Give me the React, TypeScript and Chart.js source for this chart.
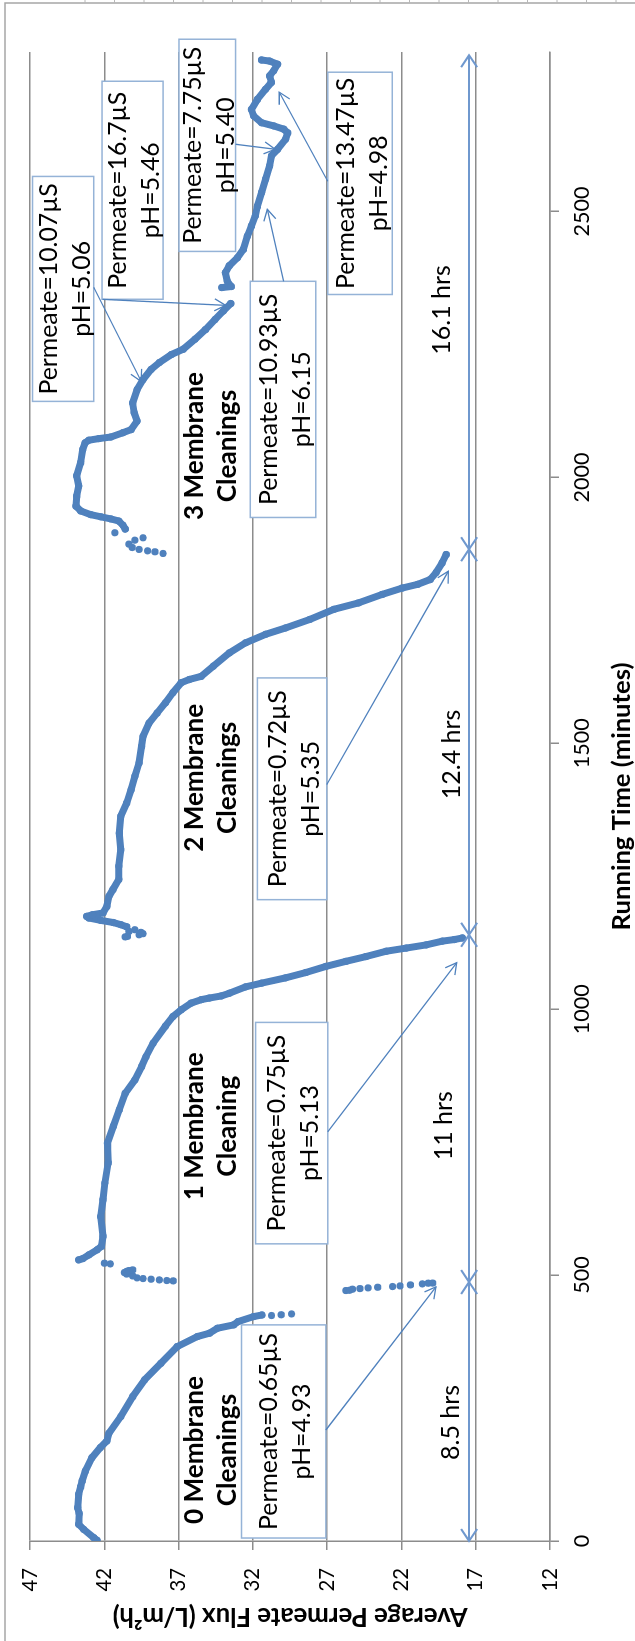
import React, { useEffect, useRef } from 'react';
import { Chart, registerables } from 'chart.js';

Chart.register(...registerables);

// ---------- axis ticks ----------
const timeTicks = [0, 500, 1000, 1500, 2000, 2500];
const fluxTicks = [12, 17, 22, 27, 32, 37, 42, 47];

// ---------- data: [running time (min), average permeate flux (L/m2h)] ----------
const run0 = [
  [1.3, 42.5], [6.2, 42.72], [22, 43.4], [31.4, 43.73], [52, 43.7], [62.7, 43.8], [87.8, 43.73],
  [102, 43.6], [112.9, 43.5], [131.7, 43.28], [156.8, 42.84], [175.6, 42.28], [188, 41.84],
  [202.5, 41.7], [234, 40.9], [271.5, 40.1], [303, 39.3], [334, 38.2], [365.6, 37.1],
  [384.4, 35.75], [390.7, 34.93], [400, 34.4], [406.4, 33.3], [412.6, 33.0], [422, 31.96], [425, 31.4],
];
const run0Tail = [[424, 30.75], [425.5, 30.1], [427, 29.4]];
const drop0 = [
  [471, 25.74], [471.5, 25.5], [473.5, 25.3], [474.7, 24.8], [476, 24.25], [477.2, 23.6],
  [478.5, 22.6], [479.7, 22.1], [481.6, 21.4], [483.5, 20.6], [484.8, 20.2], [485, 19.9],
];
const run1Start = [
  [489.2, 37.37], [489.8, 37.8], [491, 38.3], [492.3, 38.86], [493.5, 39.4], [494.8, 39.8],
  [498.5, 40.1], [502, 40.5], [504.8, 40.65], [507, 40.5], [508.6, 40.35], [509.9, 40.1],
  [521.1, 41.6], [522.4, 42.0],
];
const run1 = [
  [528.7, 43.73], [531, 43.46], [538, 43.05], [547.5, 42.5], [554, 42.2], [573, 42.1], [610, 42.25],
  [642, 42.1], [673, 41.97], [711, 41.75], [748, 41.8], [780, 41.4], [811, 41.0], [842, 40.6],
  [867, 39.95], [892, 39.5], [911, 39.2], [936, 38.73], [968, 37.9], [986, 37.4], [999, 36.83],
  [1011.5, 36.16], [1018, 35.48], [1021, 34.94], [1025, 34.13], [1030, 33.59], [1042, 32.5],
  [1049, 31.42], [1059, 29.8], [1069, 28.44], [1080.5, 27.09], [1090, 25.74], [1099, 24.39],
  [1109, 23.03], [1115, 21.68], [1121, 20.33], [1128, 19.25], [1131, 18.44], [1134, 17.9],
];
const run2Start = [
  [1136, 40.6], [1137, 40.45], [1140, 39.67], [1142, 39.4], [1144.5, 39.54], [1146.4, 40.35], [1149.5, 39.95],
];
const run2 = [
  [1155, 40.5], [1159, 40.9], [1163, 41.4], [1167, 42.24], [1171.5, 43.05], [1174.6, 43.2],
  [1177.7, 42.8], [1181, 42.1], [1193, 41.84], [1212, 41.7], [1225, 41.43], [1244, 41.03],
  [1269, 41.03], [1300, 40.9], [1331, 41.0], [1363, 40.9], [1388, 40.5], [1413, 40.2], [1438, 39.95],
  [1463, 39.67], [1494, 39.5], [1513, 39.4], [1538, 39.0], [1557, 38.45], [1576, 37.9], [1595, 37.4],
  [1614, 36.83], [1620, 36.29], [1626, 35.48], [1645, 34.67], [1670, 33.59], [1689, 32.5],
  [1705, 31.15], [1717, 29.8], [1733, 28.17], [1752, 26.55], [1764, 24.9], [1780, 23.3],
  [1792, 21.95], [1799, 20.9], [1808, 20.07], [1821, 19.67], [1839.5, 19.26], [1855, 18.99],
];
const run3Start = [
  [1857, 38.05], [1860.2, 38.6], [1862, 39.1], [1864.6, 39.67], [1868.3, 40.13], [1874.6, 40.35],
  [1882, 39.95], [1886.5, 39.4], [1896, 41.3],
];
const run3a = [
  [1903, 40.6], [1910, 40.75], [1918, 41.03], [1922, 41.57], [1926, 42.24], [1930, 42.92],
  [1937, 43.6], [1946, 43.92], [1965, 43.87], [1984, 43.73], [2003, 43.87], [2028, 43.6],
  [2053, 43.46], [2065, 43.3], [2070, 43.05], [2073, 42.38], [2076, 41.57], [2084, 40.76],
  [2090, 40.2], [2106, 39.8], [2122, 40.0], [2140, 40.1], [2165, 39.8], [2184, 39.4], [2203, 38.86],
  [2216, 38.3], [2231, 37.5], [2241, 36.7], [2260, 35.9], [2278, 35.2], [2297, 34.55], [2313, 34.0],
  [2327, 33.5],
];
const run3b = [
  [2357, 34.1], [2359, 33.46], [2369, 33.73], [2385, 33.86], [2398, 33.6], [2413, 33.05],
  [2429, 32.64], [2454, 32.37], [2473, 32.1], [2492, 31.84], [2510, 31.7], [2536, 31.42],
  [2561, 31.15], [2586, 30.88], [2605, 30.75], [2617, 30.34], [2636, 29.8], [2648, 29.66],
  [2655, 29.93], [2661, 30.6], [2667, 31.42], [2680, 31.96], [2692, 32.1], [2711, 31.7],
  [2730, 31.15], [2743, 30.75], [2755, 30.88], [2765, 30.6], [2777, 30.34], [2783, 30.88], [2785, 31.42],
];

// ---------- annotations ----------
const periodBounds = [0, 487, 1140, 1865, 2794];
const periodArrowFlux = 17.45;
const periodLabels = ['8.5 hrs', '11 hrs', '12.4 hrs', '16.1 hrs'];
const periodLabelTime = [223, 781, 1479, 2315];
const periodLabelFlux = [18.14, 18.57, 18.07, 18.7];

const cleaningLabels = [
  ['0 Membrane', 'Cleanings'],
  ['1 Membrane', 'Cleaning'],
  ['2 Membrane', 'Cleanings'],
  ['3 Membrane', 'Cleanings'],
];
const cleaningLabelTime = [171, 780, 1435, 2059];
const cleaningLabelFlux = [35.37, 33.17];

const noteLines = [
  ['Permeate=0.65µS', 'pH=4.93'],
  ['Permeate=0.75µS', 'pH=5.13'],
  ['Permeate=0.72µS', 'pH=5.35'],
  ['Permeate=10.93µS', 'pH=6.15'],
  ['Permeate=13.47µS', 'pH=4.98'],
  ['Permeate=7.75µS', 'pH=5.40'],
  ['Permeate=16.7µS', 'pH=5.46'],
  ['Permeate=10.07µS', 'pH=5.06'],
];
// [time start, time end, flux low, flux high]
const noteBoxes = [
  [5.6, 406.4, 27.09, 32.77],
  [558.8, 975.2, 26.96, 31.82],
  [1206, 1623, 27.03, 31.7],
  [1924.7, 2368.8, 27.77, 32.18],
  [2344, 2762, 22.62, 26.96],
  [2425, 2824, 33.17, 36.98],
  [2335, 2745, 38.05, 42.16],
  [2143, 2566, 42.72, 46.84],
];
// [time from, flux from, time to, flux to]
const noteArrows = [
  [208.8, 27.09, 477.9, 19.68],
  [769.5, 26.96, 1087.5, 18.28],
  [1422.4, 27.03, 1823.7, 18.84],
  [2368.8, 29.93, 2504.2, 31.03],
  [2556.9, 26.96, 2724.4, 30.23],
  [2626.5, 33.17, 2617.1, 30.5],
  [2334.9, 42.12, 2323.6, 33.84],
  [2357.5, 42.72, 2180.6, 39.52],
];

const xTitle = 'Running Time (minutes)';
const yTitle = 'Average Permeate Flux (L/m²h)';

// ---------- styles ----------
const FAMILY = 'Lato, "Noto Sans", sans-serif';
const BLUE = '#4F81BD';
const GRID = '#8c8c8c';
const BOXC = '#95B3D7';
const DIMC = '#6F98CE';
const W = 1641;
const H = 635;

function fit(text: string, target: number, weight = 'normal') {
  const c = document.createElement('canvas').getContext('2d') as CanvasRenderingContext2D;
  c.font = `${weight} 100px ${FAMILY}`;
  return (100 * target) / c.measureText(text).width;
}

function arrowHead(ctx: CanvasRenderingContext2D, x0: number, y0: number, x1: number, y1: number, len: number, half: number) {
  const a = Math.atan2(y1 - y0, x1 - x0);
  const bx = x1 - len * Math.cos(a);
  const by = y1 - len * Math.sin(a);
  const nx = -Math.sin(a) * half;
  const ny = Math.cos(a) * half;
  ctx.beginPath();
  ctx.moveTo(bx + nx, by + ny);
  ctx.lineTo(x1, y1);
  ctx.lineTo(bx - nx, by - ny);
  ctx.stroke();
}

export default function App() {
  const ref = useRef<HTMLCanvasElement | null>(null);

  useEffect(() => {
    const canvas = ref.current;
    if (!canvas) return;

    const sz = {
      note: fit('Permeate=0.65µS', 197),
      bold: fit('0 Membrane', 148, 'bold'),
      hours: fit('8.5 hrs', 75),
      fluxTick: fit('47', 23.5),
      timeTick: fit('1500', 50),
      xTitle: fit(xTitle, 268, 'bold'),
      yTitle: fit(yTitle, 355, 'bold'),
    };

    const seg = (pts: number[][], line: boolean) => ({
      data: pts.map(([t, f]) => ({ x: t, y: f })),
      showLine: line,
      borderColor: BLUE,
      backgroundColor: BLUE,
      borderWidth: line ? 7 : 0,
      borderCapStyle: 'round',
      borderJoinStyle: 'round',
      pointRadius: 3.6,
      pointBorderWidth: 0,
      pointHoverRadius: 0,
    });

    const decor = {
      id: 'decor',
      afterDraw(chart: any) {
        const { ctx, scales, chartArea } = chart;
        const X = (t: number) => scales.x.getPixelForValue(t);
        const Y = (f: number) => scales.y.getPixelForValue(f);
        ctx.save();

        // period double arrows
        ctx.strokeStyle = DIMC;
        ctx.lineWidth = 2;
        const ay = Y(periodArrowFlux);
        ctx.beginPath();
        ctx.moveTo(X(periodBounds[0]), ay);
        ctx.lineTo(X(periodBounds[periodBounds.length - 1]), ay);
        ctx.stroke();
        for (let i = 0; i < periodBounds.length - 1; i++) {
          const a = X(periodBounds[i]);
          const b = X(periodBounds[i + 1]);
          arrowHead(ctx, b, ay, a, ay, 12, 8);
          arrowHead(ctx, a, ay, b, ay, 12, 8);
        }

        // period labels
        ctx.fillStyle = '#000';
        ctx.textAlign = 'center';
        ctx.textBaseline = 'alphabetic';
        ctx.font = `normal ${sz.hours}px ${FAMILY}`;
        periodLabels.forEach((s, i) => ctx.fillText(s, X(periodLabelTime[i]), Y(periodLabelFlux[i])));

        // cleaning labels
        ctx.font = `bold ${sz.bold}px ${FAMILY}`;
        cleaningLabels.forEach((lines, i) => {
          lines.forEach((s, j) => ctx.fillText(s, X(cleaningLabelTime[i]), Y(cleaningLabelFlux[j])));
        });

        // note boxes
        ctx.font = `normal ${sz.note}px ${FAMILY}`;
        noteBoxes.forEach((b, i) => {
          const x0 = X(b[0]);
          const x1 = X(b[1]);
          const y0 = Y(b[3]);
          const y1 = Y(b[2]);
          ctx.fillStyle = '#fff';
          ctx.fillRect(x0, y0, x1 - x0, y1 - y0);
          ctx.strokeStyle = BOXC;
          ctx.lineWidth = 1.5;
          ctx.strokeRect(x0, y0, x1 - x0, y1 - y0);
          const cx = (x0 + x1) / 2;
          const cy = (y0 + y1) / 2;
          ctx.fillStyle = '#000';
          ctx.fillText(noteLines[i][0], cx, cy - 6.5);
          ctx.fillText(noteLines[i][1], cx, cy + 26.5);
        });

        // callout arrows
        ctx.strokeStyle = BLUE;
        ctx.lineWidth = 1.3;
        noteArrows.forEach((a) => {
          const x0 = X(a[0]);
          const y0 = Y(a[1]);
          const x1 = X(a[2]);
          const y1 = Y(a[3]);
          ctx.beginPath();
          ctx.moveTo(x0, y0);
          ctx.lineTo(x1, y1);
          ctx.stroke();
          arrowHead(ctx, x0, y0, x1, y1, 11, 6);
        });

        // axis titles
        ctx.fillStyle = '#000';
        ctx.textBaseline = 'middle';
        ctx.font = `bold ${sz.xTitle}px ${FAMILY}`;
        ctx.fillText(xTitle, (chartArea.left + chartArea.right) / 2, 622);
        ctx.save();
        ctx.translate(25, (chartArea.top + chartArea.bottom) / 2);
        ctx.rotate(-Math.PI / 2);
        ctx.font = `bold ${sz.yTitle}px ${FAMILY}`;
        ctx.fillText(yTitle, 0, 0);
        ctx.restore();

        // outer frame + ruler ticks
        ctx.strokeStyle = '#a6a6a6';
        ctx.lineWidth = 1.5;
        ctx.beginPath();
        ctx.moveTo(0, 5);
        ctx.lineTo(1638, 5);
        ctx.lineTo(1638, H);
        ctx.stroke();
        ctx.strokeStyle = '#b8b8b8';
        ctx.lineWidth = 1;
        for (let k = 0; k < 19; k++) {
          const yy = 85 + 29.5 * k;
          ctx.beginPath();
          ctx.moveTo(1638, yy);
          ctx.lineTo(W, yy);
          ctx.stroke();
        }
        ctx.restore();
      },
    };

    const chart = new Chart(canvas, {
      type: 'scatter',
      data: {
        datasets: [
          seg(run0, true),
          seg(run0Tail, false),
          seg(drop0, false),
          seg(run1Start, false),
          seg(run1, true),
          seg(run2Start, false),
          seg(run2, true),
          seg(run3Start, false),
          seg(run3a, true),
          seg(run3b, true),
        ] as any,
      },
      options: {
        animation: false,
        responsive: false,
        devicePixelRatio: 1,
        events: [],
        layout: { padding: { top: 26, right: 52, left: 0, bottom: 0 } },
        plugins: { legend: { display: false }, tooltip: { enabled: false } },
        scales: {
          x: {
            type: 'linear',
            position: 'bottom',
            min: 0,
            max: 2800,
            afterBuildTicks: (s: any) => {
              s.ticks = timeTicks.map((v) => ({ value: v }));
            },
            afterFit: (s: any) => {
              s.height = 85;
            },
            ticks: {
              callback: (v: any) => String(v),
              font: { family: FAMILY, size: sz.timeTick },
              color: '#000',
              padding: 10,
              maxRotation: 0,
              autoSkip: false,
            },
            grid: { drawOnChartArea: false, drawTicks: true, tickLength: 9, color: GRID, lineWidth: 1.5 },
            border: { display: true, color: GRID, width: 1.5 },
          },
          y: {
            type: 'linear',
            position: 'left',
            min: 12,
            max: 47,
            afterBuildTicks: (s: any) => {
              s.ticks = fluxTicks.map((v) => ({ value: v }));
            },
            afterFit: (s: any) => {
              s.width = 100;
            },
            ticks: {
              callback: (v: any) => String(v),
              font: { family: FAMILY, size: sz.fluxTick },
              color: '#000',
              padding: 18,
              autoSkip: false,
            },
            grid: { drawTicks: true, tickLength: 9, color: GRID, lineWidth: 1.5 },
            border: { display: true, color: GRID, width: 1.5 },
          },
        },
      } as any,
      plugins: [decor as any],
    });

    return () => chart.destroy();
  }, []);

  return (
    <div style={{ position: 'fixed', left: 0, top: 0, width: H, height: W, overflow: 'hidden', background: '#fff' }}>
      <div
        style={{
          position: 'absolute',
          left: 0,
          top: 0,
          width: W,
          height: H,
          transformOrigin: '0 0',
          transform: `translateY(${W}px) rotate(-90deg)`,
        }}
      >
        <canvas ref={ref} width={W} height={H} style={{ display: 'block', width: W, height: H }} />
      </div>
    </div>
  );
}
